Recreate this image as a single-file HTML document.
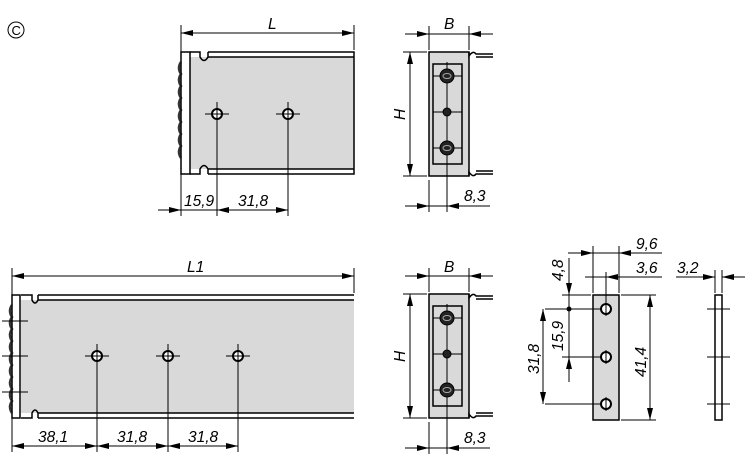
<!DOCTYPE html>
<html><head><meta charset="utf-8"><style>
html,body{margin:0;padding:0;background:#fff}
svg{display:block}
text{font-family:"Liberation Sans",sans-serif;font-style:italic;font-size:15.5px;fill:#000}
</style></head><body>
<svg width="750" height="459" viewBox="0 0 750 459" xmlns="http://www.w3.org/2000/svg">
<defs>
<marker id="a" viewBox="0 0 12 6" refX="12" refY="3" markerWidth="12" markerHeight="6" orient="auto-start-reverse" markerUnits="userSpaceOnUse"><path d="M0,0 L12,3 L0,6 Z" fill="#000"/></marker>
<g id="grom"><circle r="7" fill="#222"/><ellipse rx="4" ry="2.5" fill="none" stroke="#aaa" stroke-width="1"/></g>
</defs>
<g stroke="#000" stroke-width="1" fill="none">
<circle cx="16" cy="30" r="8"/>
</g>
<text x="11.5" y="35" style="font-style:normal;font-size:13px">C</text>

<!-- ===== TOP VIEW 1 ===== -->
<g stroke="#000" fill="none">
<rect x="190" y="57" width="164" height="112" fill="#d9d9d9" stroke="none"/>
<path d="M208,52 H354 V174 H208 M208,57 H354 M208,169 H354" stroke-width="1.5"/>
<path d="M190,52 H200 V57 Q204,64 208,57 V52 M190,174 H200 V169 Q204,162 208,169 V174" stroke-width="1.5"/>
<rect x="181" y="52" width="9" height="122" stroke-width="1.5" fill="#fff"/>
<path d="M181,62 q-4,6 0,12 q-4,6 0,12 q-4,6 0,12 q-4,6 0,12 q-4,6 0,12 q-4,6 0,12 q-4,6 0,12 q-4,6 0,12" stroke-width="2.5" stroke="#333"/>
<circle cx="217" cy="114" r="5" stroke-width="2" fill="#fff"/>
<circle cx="288" cy="114" r="5" stroke-width="2" fill="#fff"/>
<path d="M205,114 H229 M276,114 H300 M217,102 V216 M288,102 V216" stroke-width="1"/>
<path d="M181,25 V216 M354,25 V50" stroke-width="1"/>
<line x1="181" y1="33" x2="354" y2="33" marker-start="url(#a)" marker-end="url(#a)"/>
<line x1="158" y1="210" x2="181" y2="210" marker-end="url(#a)"/>
<line x1="181" y1="210" x2="217" y2="210"/>
<line x1="217" y1="210" x2="288" y2="210" marker-start="url(#a)" marker-end="url(#a)"/>
</g>
<text x="268" y="29">L</text>
<text x="184" y="206">15,9</text>
<text x="238" y="206">31,8</text>

<!-- ===== END VIEW TOP ===== -->
<g id="ev" stroke="#000" fill="none">
<rect x="429" y="52" width="40" height="124" fill="#d9d9d9" stroke-width="1.5"/>
<path d="M469,52 V56 Q473,50 476,54 H493 M469,176 V172 Q473,178 476,174 H493 M476,57 H493 M476,171 H493" stroke-width="1.5"/>
<rect x="433" y="64" width="29" height="100" stroke-width="1.5"/>
<path d="M447,62 V166 M433,76 H462 M433,112 H462 M433,148 H462" stroke-width="1"/>
<use href="#grom" x="447" y="76"/>
<circle cx="447" cy="112" r="4" fill="#222"/>
<use href="#grom" x="447" y="148"/>
<path d="M429,26 V50 M469,26 V50 M429,180 V212 M447,166 V212 M403,52 H427 M403,176 H427" stroke-width="1"/>
<line x1="405" y1="34" x2="429" y2="34" marker-end="url(#a)"/>
<line x1="429" y1="34" x2="469" y2="34"/>
<line x1="493" y1="34" x2="469" y2="34" marker-end="url(#a)"/>
<line x1="410" y1="52" x2="410" y2="176" marker-start="url(#a)" marker-end="url(#a)"/>
<line x1="405" y1="206" x2="429" y2="206" marker-end="url(#a)"/>
<line x1="429" y1="206" x2="447" y2="206"/>
<line x1="490" y1="206" x2="447" y2="206" marker-end="url(#a)"/>
</g>
<text x="444" y="29">B</text>
<text x="464" y="201">8,3</text>
<text transform="translate(405,120) rotate(-90)">H</text>

<!-- ===== END VIEW BOTTOM ===== -->
<use href="#ev" y="242"/>
<text x="444" y="272">B</text>
<text x="464" y="443">8,3</text>
<text transform="translate(405,362) rotate(-90)">H</text>

<!-- ===== BOTTOM LONG VIEW ===== -->
<g stroke="#000" fill="none">
<rect x="21" y="300" width="333" height="113" fill="#d9d9d9" stroke="none"/>
<path d="M38,295 H354 M38,300 H354 M38,418 H354 M38,413 H354" stroke-width="1.5"/>
<path d="M21,295 H32 V300 Q35,306 38,300 V295 M21,418 H32 V413 Q35,407 38,413 V418" stroke-width="1.5"/>
<rect x="12" y="295" width="8" height="123" stroke-width="1.5" fill="#fff"/>
<path d="M12,305 q-4,6 0,12 q-4,6 0,12 q-4,6 0,12 q-4,6 0,12 q-4,6 0,12 q-4,6 0,12 q-4,6 0,12 q-4,6 0,12 q-4,6 0,12" stroke-width="2.5" stroke="#333"/>
<path d="M2,321 H28 M2,356 H28 M2,392 H28" stroke-width="1"/>
<circle cx="97" cy="356" r="5" stroke-width="2" fill="#fff"/>
<circle cx="168" cy="356" r="5" stroke-width="2" fill="#fff"/>
<circle cx="238" cy="356" r="5" stroke-width="2" fill="#fff"/>
<path d="M85,356 H109 M156,356 H180 M226,356 H250 M97,344 V452 M168,344 V452 M238,344 V452" stroke-width="1"/>
<path d="M12,268 V452 M354,268 V293" stroke-width="1"/>
<line x1="12" y1="276" x2="354" y2="276" marker-start="url(#a)" marker-end="url(#a)"/>
<line x1="12" y1="446" x2="97" y2="446" marker-start="url(#a)" marker-end="url(#a)"/>
<line x1="97" y1="446" x2="168" y2="446" marker-start="url(#a)" marker-end="url(#a)"/>
<line x1="168" y1="446" x2="238" y2="446" marker-start="url(#a)" marker-end="url(#a)"/>
</g>
<text x="187" y="272">L1</text>
<text x="38" y="442">38,1</text>
<text x="117" y="442">31,8</text>
<text x="188" y="442">31,8</text>

<!-- ===== PLATE ===== -->
<g stroke="#000" fill="none">
<rect x="593" y="295" width="26" height="125" fill="#d9d9d9" stroke-width="1.5"/>
<circle cx="606" cy="309" r="5" stroke-width="2" fill="#fff"/>
<circle cx="606" cy="357" r="5" stroke-width="2" fill="#fff"/>
<circle cx="606" cy="404" r="5" stroke-width="2" fill="#fff"/>
<path d="M606,272 V316 M606,350 V364 M606,397 V411" stroke-width="1"/>
<path d="M593,246 V293 M619,246 V293 M562,295 H591 M621,295 H656 M621,420 H656 M545,309 H600 M562,357 H600 M545,404 H600" stroke-width="1"/>
<line x1="568" y1="253" x2="593" y2="253" marker-end="url(#a)"/>
<line x1="593" y1="253" x2="619" y2="253"/>
<line x1="662" y1="253" x2="619" y2="253" marker-end="url(#a)"/>
<line x1="585" y1="277" x2="606" y2="277"/>
<line x1="662" y1="277" x2="606" y2="277" marker-end="url(#a)"/>
<line x1="569" y1="258" x2="569" y2="295" marker-end="url(#a)"/>
<line x1="569" y1="295" x2="569" y2="309"/>
<circle cx="569" cy="309" r="2" fill="#000"/>
<line x1="569" y1="382" x2="569" y2="357" marker-end="url(#a)"/>
<line x1="569" y1="309" x2="569" y2="357"/>
<line x1="543" y1="309" x2="543" y2="404" marker-start="url(#a)" marker-end="url(#a)"/>
<line x1="650" y1="295" x2="650" y2="420" marker-start="url(#a)" marker-end="url(#a)"/>
<rect x="715" y="295" width="7" height="125" fill="#fff" stroke-width="1.5"/>
<path d="M715,270 V293 M722,270 V293 M707,309 H730 M707,357 H730 M707,404 H730" stroke-width="1"/>
<line x1="676" y1="277" x2="715" y2="277" marker-end="url(#a)"/>
<line x1="745" y1="277" x2="722" y2="277" marker-end="url(#a)"/>
</g>
<text x="636" y="249">9,6</text>
<text x="636" y="273">3,6</text>
<text x="677" y="273">3,2</text>
<text transform="translate(563,281) rotate(-90)">4,8</text>
<text transform="translate(563,351) rotate(-90)">15,9</text>
<text transform="translate(539,374) rotate(-90)">31,8</text>
<text transform="translate(646,377) rotate(-90)">41,4</text>
</svg>
</body></html>
